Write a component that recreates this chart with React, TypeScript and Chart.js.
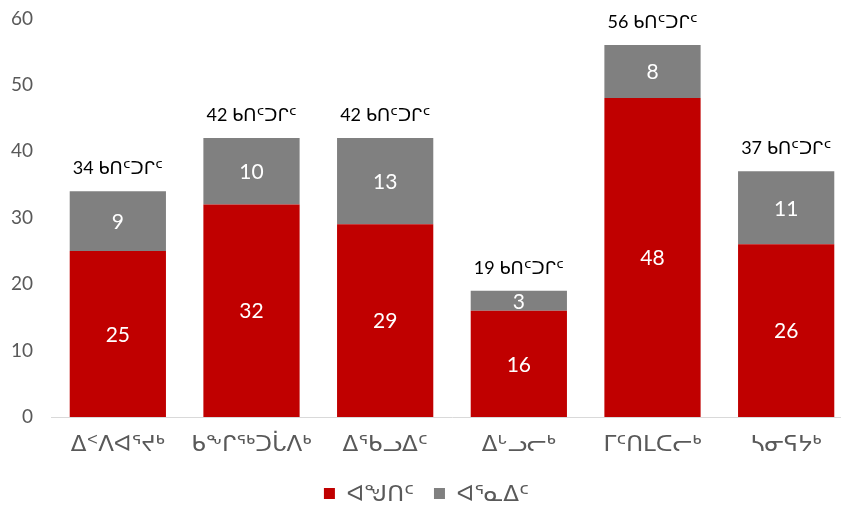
import React, { useEffect, useRef } from "react";
import { Chart, registerables } from "chart.js";

Chart.register(...registerables);

const categories = ["ᐃᑉᐱᐊᕐᔪᒃ", "ᑲᖕᒋᖅᑐᒑᐱᒃ", "ᐃᖃᓗᐃᑦ", "ᐃᒡᓗᓕᒃ", "ᒥᑦᑎᒪᑕᓕᒃ", "ᓴᓂᕋᔭᒃ"];
const men = [25, 32, 29, 16, 48, 26];
const women = [9, 10, 13, 3, 8, 11];
const seriesNames = ["ᐊᖑᑎᑦ", "ᐊᕐᓇᐃᑦ"];
const totalSuffix = "ᑲᑎᑦᑐᒋᑦ";
const yTicks = [0, 10, 20, 30, 40, 50, 60];

const FONT = "Lato, 'DejaVu Sans', sans-serif";

const labelPlugin = {
  id: "labelPlugin",
  afterDatasetsDraw(chart: any) {
    const ctx = chart.ctx;
    ctx.save();
    ctx.textAlign = "center";
    ctx.textBaseline = "middle";
    chart.data.datasets.forEach((ds: any, di: number) => {
      const meta = chart.getDatasetMeta(di);
      meta.data.forEach((bar: any, i: number) => {
        const top = Math.min(bar.y, bar.base);
        const bottom = Math.max(bar.y, bar.base);
        ctx.fillStyle = "#ffffff";
        ctx.font = "21px " + FONT;
        ctx.fillText(String(ds.data[i]), bar.x, (top + bottom) / 2 + 1);
      });
    });
    const last = chart.getDatasetMeta(chart.data.datasets.length - 1);
    last.data.forEach((bar: any, i: number) => {
      const total = men[i] + women[i];
      ctx.fillStyle = "#000000";
      ctx.font = "18px " + FONT;
      ctx.fillText(total + " " + totalSuffix, bar.x, bar.y - 23);
    });
    ctx.restore();
  },
};

export default function App() {
  const ref = useRef<HTMLCanvasElement>(null);
  useEffect(() => {
    document.body.style.margin = "0";
    document.body.style.overflow = "hidden";
    const chart = new Chart(ref.current!, {
      type: "bar",
      data: {
        labels: categories,
        datasets: [
          { label: seriesNames[0], data: men, backgroundColor: "#c00000" },
          { label: seriesNames[1], data: women, backgroundColor: "#808080" },
        ],
      },
      options: {
        animation: false,
        responsive: false,
        maintainAspectRatio: false,
        layout: { padding: { top: -2, right: 2, left: 0, bottom: -7 } },
        datasets: { bar: { barPercentage: 0.72, categoryPercentage: 1 } },
        scales: {
          x: {
            stacked: true,
            grid: { display: false },
            border: { display: true, color: "#d9d9d9", width: 1 },
            ticks: { color: "#595959", font: { size: 23, family: FONT }, padding: 5 },
            afterFit: (s: any) => { s.height = 45; },
          },
          y: {
            stacked: true,
            min: 0,
            max: 60,
            grid: { display: false },
            border: { display: false },
            afterBuildTicks: (s: any) => { s.ticks = yTicks.map((v) => ({ value: v })); },
            ticks: { color: "#595959", font: { size: 19, family: FONT }, padding: 10 },
            afterFit: (s: any) => { s.width = 51; },
          },
        },
        plugins: {
          legend: {
            position: "bottom",
            labels: {
              color: "#595959",
              font: { size: 23, family: FONT },
              boxWidth: 11,
              boxHeight: 11,
              padding: 20,
            },
          },
          tooltip: { enabled: false },
        },
      },
      plugins: [labelPlugin],
    });
    return () => chart.destroy();
  }, []);
  return (
    <div style={{ position: "fixed", left: 0, top: 0, width: 841, height: 508, overflow: "hidden", background: "#fff" }}>
      <canvas ref={ref} width={855} height={511} style={{ display: "block", marginTop: -3 }} />
    </div>
  );
}
